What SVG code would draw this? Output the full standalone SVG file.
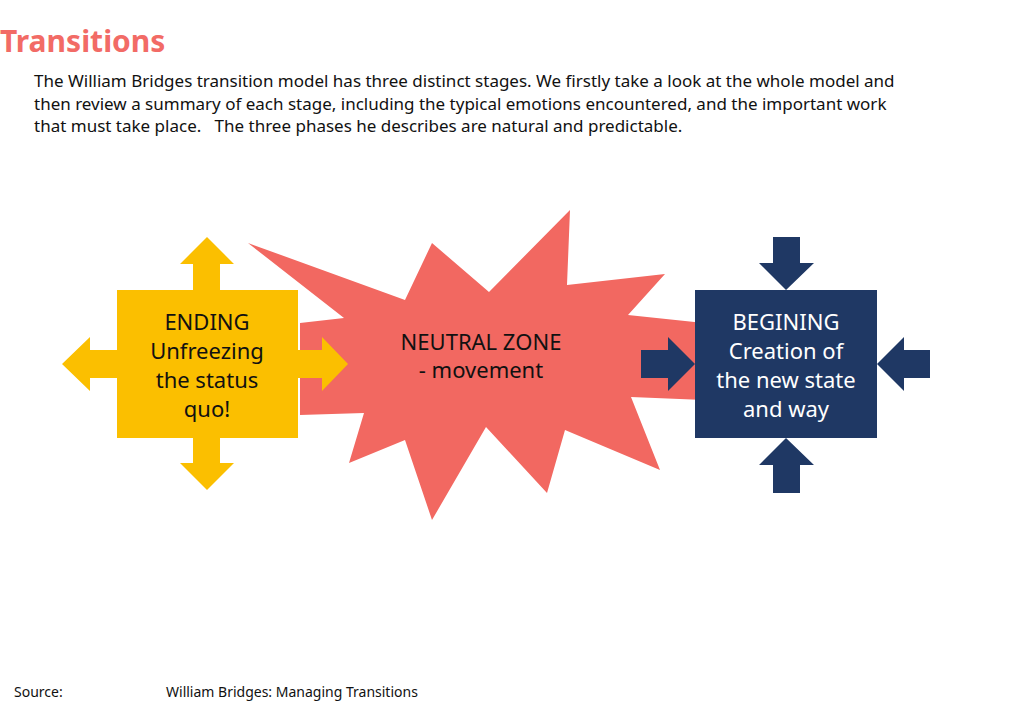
<svg xmlns="http://www.w3.org/2000/svg" width="1024" height="708" viewBox="0 0 1024 708">
<style>
text{font-family:"Noto Sans","Open Sans",sans-serif}
.b{font-size:17px;fill:#111}
.n{font-size:22px;text-anchor:middle}
.y{fill:#fbbf00}.d{fill:#1f3864}
</style>
<rect width="1024" height="708" fill="#fff"/>
<text x="0" y="52" style="font-size:30px;font-weight:bold;fill:#f26b66">Transitions</text>
<text class="b" x="34" y="87">The William Bridges transition model has three distinct stages. We firstly take a look at the whole model and</text>
<text class="b" x="34" y="110">then review a summary of each stage, including the typical emotions encountered, and the important work</text>
<text class="b" x="34" y="132" xml:space="preserve">that must take place.   The three phases he describes are natural and predictable.</text>
<g id="neutral">
<polygon fill="#f26861" points="248,243 405,300 432,243 489,292 570,210 567,285 665,274 628,315 704,323 704,400 631,397 660,470 565,430 547,493 486,427 432,520 405,440 349,463 364,413 300,415 300,323 344,318"/>
<text class="n" x="481" y="350" fill="#111">NEUTRAL ZONE</text>
<text class="n" x="481" y="378" fill="#111">- movement</text>
</g>
<g id="connectors">
<polygon class="y" points="193,290 193,264 180,264 207,237 234,264 220,264 220,290"/>
<polygon class="y" points="193,438 193,463 180,463 207,490 234,463 220,463 220,438"/>
<polygon class="y" points="117,350 90,350 90,337 62,364 90,391 90,378 117,378"/>
<polygon class="y" points="298,350 322,350 322,337 348,364 322,391 322,378 298,378"/>
<polygon class="d" points="773,237 800,237 800,263 814,263 786,290 759,263 773,263"/>
<polygon class="d" points="773,493 800,493 800,465 814,465 786,438 759,465 773,465"/>
<polygon class="d" points="641,350 668,350 668,337 695,364 668,391 668,378 641,378"/>
<polygon class="d" points="930,350 904,350 904,337 877,364 904,391 904,378 930,378"/>
</g>
<g id="ending">
<rect x="117" y="290" width="181" height="148" class="y"/>
<text class="n" fill="#111"><tspan x="207" y="330">ENDING</tspan><tspan x="207" y="359">Unfreezing</tspan><tspan x="207" y="388">the status</tspan><tspan x="207" y="417">quo!</tspan></text>
</g>
<g id="begining">
<rect x="695" y="290" width="182" height="148" class="d"/>
<text class="n" fill="#fff"><tspan x="786" y="330">BEGINING</tspan><tspan x="786" y="359">Creation of</tspan><tspan x="786" y="388">the new state</tspan><tspan x="786" y="417">and way</tspan></text>
</g>
<text x="14" y="697" style="font-size:14px;fill:#111">Source:</text>
<text x="166" y="697" style="font-size:14px;fill:#111">William Bridges:  Managing Transitions</text>
</svg>
